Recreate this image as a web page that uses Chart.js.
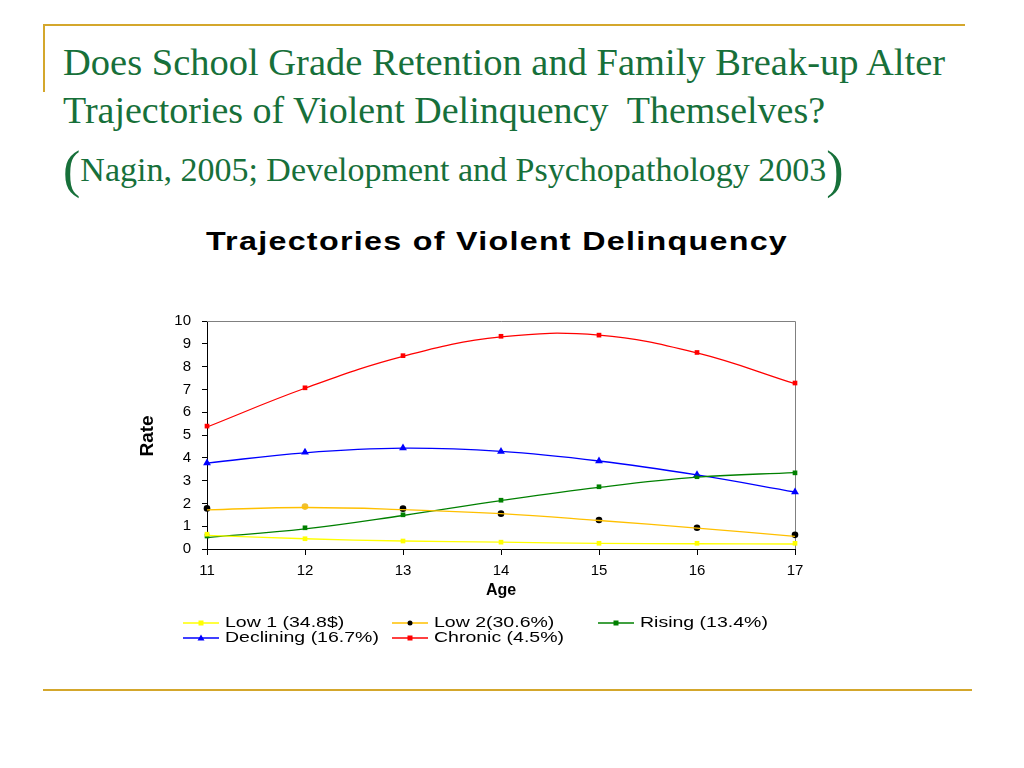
<!DOCTYPE html>
<html>
<head>
    <title>Trajectories of Violent Delinquency</title>
    <script src="https://cdn.jsdelivr.net/npm/chart.js"></script>
    <style>
        body { margin:0; width:1024px; height:768px; background:#fff; position:relative; overflow:hidden; }
        .rule { position:absolute; background:#d4a72c; }
        .head { position:absolute; left:63px; font-family:"Liberation Serif", serif; color:#17703a; white-space:nowrap; }
        #chart-title { position:absolute; left:0; width:994px; top:227px; text-align:center;
            font-family:"Liberation Sans", Arial, sans-serif; font-weight:bold; font-size:25px; letter-spacing:1px;
            transform:scaleX(1.29); transform-origin:497px 0; }
        #holder { position:absolute; left:120px; top:300px; width:720px; height:370px; }
    </style>
</head>

<body>
    <div class="rule" style="left:43px; top:24px; width:922px; height:2px"></div>
    <div class="rule" style="left:43px; top:24px; width:2px; height:68px"></div>
    <div class="rule" style="left:43px; top:689px; width:929px; height:2px"></div>

    <div class="head" style="top:40px; font-size:38.5px">Does School Grade Retention and Family Break-up Alter</div>
    <div class="head" style="top:88px; font-size:38px">Trajectories of Violent Delinquency&nbsp; Themselves?</div>
    <div class="head" style="top:140px; font-size:34px"><span style="font-size:52px; vertical-align:-6px">(</span>Nagin, 2005; Development and Psychopathology 2003<span style="font-size:52px; vertical-align:-6px">)</span></div>

    <div id="chart-title">Trajectories of Violent Delinquency</div>

    <div id="holder">
        <canvas id="chart-area" width="720" height="370"></canvas>
    </div>

    <script>
		// ages on the x axis
		var ages = ['11', '12', '13', '14', '15', '16', '17'];
		var yTicks = [0, 1, 2, 3, 4, 5, 6, 7, 8, 9, 10];

		// observed rates (markers)
		var low1Obs      = [0.65, 0.45, 0.35, 0.30, 0.25, 0.25, 0.25];
		var low2Obs      = [1.78, 1.86, 1.77, 1.55, 1.27, 0.93, 0.62];
		var risingObs    = [0.57, 0.93, 1.50, 2.14, 2.73, 3.17, 3.34];
		var decliningObs = [3.77, 4.24, 4.43, 4.28, 3.86, 3.26, 2.50];
		var chronicObs   = [5.39, 7.07, 8.48, 9.33, 9.38, 8.62, 7.28];

		// fitted trajectories (lines)
		var low1Fit      = [0.60, 0.45, 0.35, 0.30, 0.25, 0.23, 0.22];
		var low2Fit      = [1.72, 1.82, 1.73, 1.55, 1.25, 0.92, 0.55];
		var risingFit    = [0.50, 0.88, 1.47, 2.12, 2.70, 3.15, 3.35];
		var decliningFit = [3.77, 4.22, 4.42, 4.28, 3.86, 3.25, 2.50];
		var chronicFit   = [5.35, 7.05, 8.45, 9.30, 9.38, 8.60, 7.25];

		var groups = [
			{ label: 'Low 1 (34.8$)',     obs: low1Obs,      fit: low1Fit,      line: '#ffff00', mark: '#ffff00', style: 'rect' },
			{ label: 'Low 2(30.6%)',      obs: low2Obs,      fit: low2Fit,      line: '#ffc000', mark: '#000000', style: 'circle' },
			{ label: 'Rising (13.4%)',    obs: risingObs,    fit: risingFit,    line: '#008000', mark: '#008000', style: 'rect' },
			{ label: 'Declining (16.7%)', obs: decliningObs, fit: decliningFit, line: '#0000ff', mark: '#0000ff', style: 'triangle' },
			{ label: 'Chronic (4.5%)',    obs: chronicObs,   fit: chronicFit,   line: '#ff0000', mark: '#ff0000', style: 'rect' }
		];

		var datasets = [];
		groups.forEach(function(g) {
			datasets.push({
				label: g.label + ' fit', data: g.fit, borderColor: g.line, borderWidth: 1.3,
				pointRadius: 0, tension: 0.4, fill: false
			});
		});
		groups.forEach(function(g) {
			var r = g.style == 'triangle' ? 4.5 : 3.3;
			var fillc = g.mark;
			if (g.style == 'circle') {
				// the age 12 marker shows up in the line colour
				fillc = g.obs.map(function(v, i) { return i == 1 ? '#f0c030' : g.mark; });
			}
			datasets.push({
				label: g.label, data: g.obs, showLine: false, pointStyle: g.style,
				pointRadius: r, pointBackgroundColor: fillc, pointBorderColor: fillc, pointBorderWidth: 0
			});
		});

		// legend rows, axis names and gray frame drawn by hand
		var extras = {
			id: 'extras',
			beforeDatasetsDraw: function(chart) {
				var ctx = chart.ctx, a = chart.chartArea;
				ctx.save();
				ctx.strokeStyle = '#808080';
				ctx.lineWidth = 1;
				ctx.beginPath();
				ctx.moveTo(a.left, a.top + 0.5);
				ctx.lineTo(a.right + 0.5, a.top + 0.5);
				ctx.lineTo(a.right + 0.5, a.bottom);
				ctx.stroke();
				ctx.restore();
			},
			afterDraw: function(chart) {
				var ctx = chart.ctx, a = chart.chartArea;
				ctx.save();
				ctx.fillStyle = '#000';
				ctx.font = 'bold 16px "Liberation Sans", Arial';
				ctx.textAlign = 'center';
				ctx.textBaseline = 'middle';
				ctx.fillText('Age', (a.left + a.right) / 2, 291);

				ctx.translate(28, (a.top + a.bottom) / 2 + 1);
				ctx.rotate(-Math.PI / 2);
				ctx.font = 'bold 19px "Liberation Sans Narrow", "Liberation Sans", Arial';
				ctx.fillText('Rate', 0, 0);
				ctx.restore();

				var spots = [[63, 323], [272, 323], [478, 323], [63, 338], [272, 338]];
				ctx.save();
				ctx.font = '15px "Liberation Sans", Arial';
				ctx.textBaseline = 'middle';
				groups.forEach(function(g, i) {
					var x = spots[i][0], y = spots[i][1];
					ctx.strokeStyle = g.line;
					ctx.lineWidth = 1.3;
					ctx.beginPath();
					ctx.moveTo(x, y);
					ctx.lineTo(x + 36, y);
					ctx.stroke();
					ctx.fillStyle = g.mark;
					var cx = x + 18;
					if (g.style == 'circle') {
						ctx.beginPath(); ctx.arc(cx, y, 2.5, 0, Math.PI * 2); ctx.fill();
					} else if (g.style == 'triangle') {
						ctx.beginPath(); ctx.moveTo(cx, y - 3.5); ctx.lineTo(cx + 3.5, y + 2.5); ctx.lineTo(cx - 3.5, y + 2.5); ctx.fill();
					} else {
						ctx.fillRect(cx - 2.5, y - 2.5, 5, 5);
					}
					ctx.fillStyle = '#000';
					ctx.save();
					ctx.translate(x + 42, y);
					ctx.scale(1.3, 1);
					ctx.fillText(g.label, 0, 0);
					ctx.restore();
				});
				ctx.restore();
			}
		};

		var config = {
			type: 'line',
			data: { labels: ages, datasets: datasets },
			options: {
				responsive: false,
				animation: false,
				layout: { padding: { left: 0, right: 45, top: 21, bottom: 0 } },
				plugins: { legend: { display: false }, tooltip: { enabled: false }, title: { display: false } },
				scales: {
					x: {
						offset: false,
						grid: { drawOnChartArea: false, tickLength: 6, color: '#000' },
						border: { color: '#000', width: 1 },
						ticks: { color: '#000', font: { family: '"Liberation Sans", Arial', size: 15 }, padding: 7, maxRotation: 0 },
						afterFit: function(s) { s.height = 121; }
					},
					y: {
						min: 0, max: 10,
						afterBuildTicks: function(s) { s.ticks = yTicks.map(function(v) { return { value: v }; }); },
						grid: { drawOnChartArea: false, tickLength: 5, color: '#000' },
						border: { color: '#000', width: 1 },
						ticks: { color: '#000', font: { family: '"Liberation Sans", Arial', size: 15 }, padding: 11 },
						afterFit: function(s) { s.width = 87; }
					}
				}
			},
			plugins: [extras]
		};

		window.onload = function() {
			var ctx = document.getElementById('chart-area').getContext('2d');
			window.myLine = new Chart(ctx, config);
		};
    </script>
</body>
</html>
